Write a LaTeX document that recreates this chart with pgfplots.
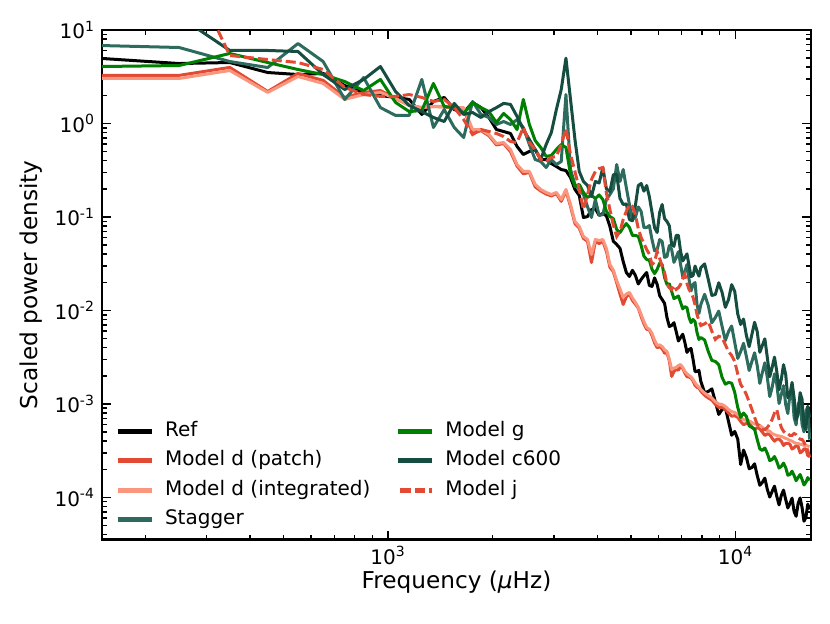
\documentclass[border=0pt]{standalone}
\usepackage{fontspec}
\setmainfont{DejaVu Sans}
\usepackage{pgfplots}
\usepackage{pgfplotstable}
\pgfplotsset{compat=1.18}
\definecolor{cref}{RGB}{0,0,0}
\definecolor{cpatch}{RGB}{227,74,51}
\definecolor{cint}{RGB}{250,150,125}
\definecolor{cstag}{RGB}{44,107,94}
\definecolor{cg}{RGB}{0,128,0}
\definecolor{cc600}{RGB}{21,77,64}

\pgfplotstableread{
f ref dpatch dint stag g c600 j
150 4.96 3.27 3.03 6.82 4.07 16 80
250 4.38 3.27 3.03 6.50 4.17 14 75
350 4.49 3.98 3.69 4.60 5.61 6.04 5.34
450 3.51 2.20 2.15 3.97 4.49 6.04 4.83
550 3.34 3.43 3.18 7.17 3.78 5.89 4.49
650 3.43 2.89 2.68 4.60 3.34 3.34 3.78
750 2.55 1.90 1.81 1.81 2.81 2.31 2.43
850 2.15 2.15 2.04 3.10 2.25 2.96 2.04
950 1.99 2.25 2.15 1.48 2.96 4.07 1.95
1050 1.90 1.85 1.85 1.22 1.68 2.20 1.95
1150 1.81 1.56 1.56 1.22 1.34 1.56 2.04
1250 1.25 1.48 1.48 2.96 1.38 1.34 1.90
1350 1.72 1.52 1.52 0.906 2.68 1.16 1.72
1450 1.90 1.50 1.52 1.41 1.52 1.05 1.81
1550 1.41 1.46 1.48 0.906 1.48 1.64 1.48
1650 1.31 1.46 1.48 0.708 1.28 1.25 1.10
1750 1.68 0.78 0.862 1.72 1.68 1.31 0.762
1850 1.48 0.84 0.862 1.25 1.48 1.16 0.862
1950 1.16 0.74 0.762 1.16 1.34 1.34 0.821
2050 0.862 0.59 0.611 0.976 1.025 1.48 0.782
2150 0.821 0.61 0.626 1.05 1.28 1.64 0.726
2250 0.782 0.50 0.527 0.976 1.10 1.60 0.642
2350 0.568 0.35 0.364 1.10 0.862 1.19 0.626
2450 0.466 0.29 0.307 0.906 1.81 0.862 0.906
2550 0.502 0.30 0.307 0.596 0.976 0.674 0.626
2650 0.527 0.21 0.223 0.412 0.658 0.527 0.527
2750 0.412 0.19 0.197 0.392 0.554 0.412 0.412
2850 0.412 0.176 0.183 0.338 0.444 0.596 0.392
2950 0.373 0.168 0.174 0.412 0.455 0.801 0.433
3050 0.347 0.178 0.183 0.364 0.527 1.41 0.444
3150 0.322 0.147 0.154 0.392 0.596 2.31 0.596
3250 0.314 0.190 0.197 2.04 0.554 5.0 0.884
3350 0.264 0.130 0.136 0.322 0.285 1.81 0.466
3450 0.197 0.085 0.0895 0.223 0.212 0.674 0.307
3550 0.170 0.076 0.0791 0.197 0.223 0.307 0.197
3650 0.0988 0.059 0.0619 0.174 0.183 0.240 0.120
3750 0.101 0.055 0.0574 0.129 0.162 0.217 0.174
3850 0.120 0.0326 0.0397 0.0988 0.170 0.166 0.252
3950 0.123 0.055 0.0574 0.154 0.158 0.240 0.307
4050 0.104 0.052 0.0560 0.104 0.172 0.231 0.33
4150 0.109 0.055 0.0574 0.106 0.154 0.338 0.338
4250 0.103 0.043 0.046 0.154 0.115 0.20 0.18
4350 0.0791 0.029 0.0310 0.174 0.101 0.187 0.120
4450 0.055 0.026 0.027 0.20 0.096 0.283 0.082
4550 0.0508 0.0198 0.0209 0.364 0.0735 0.285 0.0619
4650 0.0463 0.0150 0.0170 0.24 0.068 0.158 0.070
4750 0.0334 0.0116 0.0138 0.322 0.0773 0.136 0.0940
4850 0.0255 0.0140 0.0150 0.206 0.085 0.138 0.115
4950 0.0231 0.0150 0.0156 0.136 0.0773 0.0940 0.136
5050 0.0269 0.0128 0.0136 0.094 0.0634 0.091 0.13
5150 0.0237 0.0117 0.0122 0.0988 0.0634 0.133 0.106
5250 0.0192 0.0106 0.0108 0.128 0.0622 0.217 0.075
5350 0.0215 0.0086 0.00906 0.115 0.0496 0.228 0.0604
5450 0.0235 0.0072 0.0076 0.077 0.0381 0.189 0.052
5550 0.0255 0.0063 0.00658 0.0773 0.0351 0.217 0.0449
5650 0.0185 0.0062 0.0063 0.081 0.0344 0.165 0.040
5750 0.0181 0.0054 0.00568 0.0574 0.0275 0.112 0.0310
5850 0.0223 0.0045 0.0048 0.0435 0.0248 0.0766 0.0332
5950 0.0190 0.0040 0.00423 0.0449 0.0275 0.0683 0.0428
6050 0.0144 0.0041 0.00428 0.0573 0.0322 0.112 0.036
6150 0.0131 0.0039 0.00412 0.0547 0.0310 0.136 0.0296
6250 0.0119 0.0035 0.00380 0.037 0.0225 0.096 0.0255
6350 0.00841 0.0035 0.00364 0.0378 0.0190 0.0895 0.0190
6450 0.00674 0.0029 0.0030 0.0496 0.0193 0.0806 0.0175
6550 0.00691 0.00197 0.00234 0.0449 0.0160 0.0508 0.0168
6650 0.00740 0.00222 0.00242 0.0327 0.0134 0.0485 0.0185
6750 0.00596 0.00236 0.00246 0.0369 0.0138 0.0634 0.0168
6850 0.00472 0.00230 0.00258 0.0425 0.0143 0.0637 0.0175
6950 0.00514 0.00252 0.00264 0.0310 0.0122 0.0428 0.0190
7050 0.00557 0.00240 0.00246 0.0229 0.0104 0.0339 0.022
7150 0.00455 0.00214 0.00223 0.0261 0.0110 0.0369 0.0243
7250 0.00356 0.00196 0.00210 0.031 0.0107 0.0403 0.0195
7350 0.00383 0.00194 0.00202 0.0215 0.00841 0.0303 0.0168
7450 0.00392 0.00190 0.00195 0.0162 0.0074 0.023 0.0155
7550 0.00299 0.00176 0.00183 0.0190 0.00802 0.0237 0.0138
7650 0.00222 0.00158 0.00168 0.0199 0.0076 0.0299 0.0115
7750 0.00223 0.00151 0.00158 0.0116 0.00582 0.0261 0.00906
7850 0.00229 0.00148 0.00152 0.0093 0.0049 0.0233 0.0078
7950 0.00174 0.00137 0.00143 0.0116 0.00514 0.0288 0.0069
8150 0.00132 0.00124 0.00131 0.0149 0.00483 0.0315 0.0072
8350 0.00136 0.00116 0.00123 0.0113 0.00364 0.0215 0.00762
8550 0.00145 0.00110 0.00116 0.0074 0.00292 0.0145 0.0060
8750 0.00106 0.00099 0.00106 0.00841 0.00285 0.0148 0.00490
8950 0.000773 0.00092 0.00100 0.00985 0.00263 0.0198 0.0053
9150 0.000873 0.00092 0.000988 0.00675 0.00192 0.0156 0.00514
9350 0.000914 0.00088 0.00094 0.00477 0.00163 0.0108 0.0043
9550 0.000650 0.00080 0.000873 0.00596 0.00170 0.0131 0.00364
9750 0.000463 0.00074 0.00083 0.00683 0.00167 0.0189 0.0033
9950 0.000508 0.00075 0.000811 0.00455 0.00133 0.0160 0.00285
10150 0.000422 0.00072 0.00077 0.00307 0.00092 0.0092 0.0021
10350 0.000225 0.00065 0.000718 0.00364 0.000718 0.00708 0.00162
10550 0.000321 0.00060 0.00068 0.00446 0.0008 0.0081 0.00145
10750 0.000268 0.00062 0.000667 0.00322 0.000735 0.00541 0.00126
10950 0.000203 0.00062 0.00066 0.00228 0.000583 0.0041 0.00105
11150 0.000209 0.00057 0.000634 0.00285 0.000561 0.00554 0.000873
11350 0.000229 0.00053 0.00061 0.00353 0.000538 0.00748 0.00072
11550 0.000172 0.00056 0.000604 0.00258 0.000417 0.00596 0.000604
11750 0.000135 0.00054 0.00059 0.00166 0.000331 0.00357 0.00058
11950 0.000145 0.00050 0.000561 0.00217 0.000318 0.00423 0.000533
12150 0.000161 0.00046 0.00054 0.00276 0.000338 0.00498 0.00053
12350 0.000122 0.00048 0.000521 0.00192 0.000296 0.00314 0.000561
12550 0.000101 0.00047 0.00051 0.0012 0.000248 0.00196 0.00061
12750 0.000116 0.00043 0.000483 0.00150 0.000255 0.00246 0.000683
12950 0.000132 0.00040 0.00047 0.0021 0.000274 0.00317 0.00080
13150 0.000103 0.00042 0.000460 0.00162 0.000243 0.00223 0.000873
13350 0.0000832 0.00042 0.000455 0.00101 0.000206 0.00142 0.00068
13550 0.000105 0.00040 0.000449 0.00126 0.000215 0.00183 0.000561
13750 0.000120 0.00036 0.00044 0.00157 0.000233 0.00263 0.00051
13950 0.0000953 0.00038 0.000428 0.000988 0.000209 0.00207 0.000483
14150 0.0000772 0.00038 0.00042 0.00079 0.000173 0.00117 0.00048
14350 0.0000863 0.00037 0.000407 0.00126 0.000176 0.00126 0.000460
14550 0.0000982 0.00033 0.00040 0.00139 0.000191 0.00170 0.00046
14750 0.0000708 0.00034 0.000388 0.000718 0.000172 0.00117 0.000483
14950 0.0000629 0.00036 0.00038 0.000597 0.000151 0.00068 0.00047
15150 0.0000863 0.00035 0.000378 0.000988 0.000164 0.000772 0.000438
15350 0.0000987 0.00030 0.00037 0.00111 0.000176 0.00132 0.00042
15550 0.0000782 0.00031 0.000369 0.000604 0.000156 0.00112 0.000417
15750 0.0000557 0.00033 0.00036 0.000503 0.000136 0.00058 0.00039
15950 0.0000611 0.00033 0.000360 0.000832 0.000145 0.000533 0.000351
16150 0.0000848 0.00028 0.000355 0.00094 0.000163 0.00094 0.00032
16350 0.0000745 0.00029 0.000351 0.000417 0.000152 0.000718 0.000268
}\spectra

\begin{document}
\begin{tikzpicture}
\useasboundingbox (-51pt,-41.75pt) rectangle (364pt,269.75pt);
\begin{axis}[
  xmode=log, ymode=log,
  scale only axis, width=354.5pt, height=254.75pt,
  xmin=150, xmax=16500, ymin=3.55e-5, ymax=10,
  axis line style={line width=1.1pt},
  xtick={1000,10000},
  xticklabels={10\textsuperscript{3},10\textsuperscript{4}},
  minor xtick={200,300,400,500,600,700,800,900,2000,3000,4000,5000,6000,7000,8000,9000},
  ytick={1e-4,1e-3,1e-2,1e-1,1,10},
  yticklabels={10\textsuperscript{-4},10\textsuperscript{-3},10\textsuperscript{-2},10\textsuperscript{-1},10\textsuperscript{0},10\textsuperscript{1}},
  minor ytick={4e-5,5e-5,6e-5,7e-5,8e-5,9e-5,2e-4,3e-4,4e-4,5e-4,6e-4,7e-4,8e-4,9e-4,2e-3,3e-3,4e-3,5e-3,6e-3,7e-3,8e-3,9e-3,0.02,0.03,0.04,0.05,0.06,0.07,0.08,0.09,0.2,0.3,0.4,0.5,0.6,0.7,0.8,0.9,2,3,4,5,6,7,8,9},
  tick align=inside,
  major tick length=4.5pt, minor tick length=2.5pt,
  every tick/.append style={black, line width=0.75pt},
  tick label style={font=\fontsize{10}{12}\selectfont},
  xlabel={Frequency ({\itshape μ}Hz)},
  ylabel={Scaled power density},
  every axis x label/.style={at={(axis description cs:0.5,-0.0844)},anchor=center,font=\fontsize{11.6}{14}\selectfont},
  every axis y label/.style={at={(axis description cs:-0.1001,0.5)},rotate=90,anchor=center,font=\fontsize{11.6}{14}\selectfont},
  legend columns=2,
  legend cell align=left,
  legend style={at={(axis description cs:0.01834,0.2326)}, anchor=north west,
    draw=none, fill=none, inner sep=0pt, outer sep=0pt, row sep=4.8pt,
    font=\fontsize{10}{12}\selectfont,
    nodes={inner sep=0pt, text height=7.5pt, text depth=2.5pt},
    /tikz/every odd column/.append style={column sep=5.5pt},
    /tikz/every even column/.append style={column sep=12.5pt}},
  legend image code/.code={\draw[#1] (0pt,0pt) -- (17pt,0pt);},
]
\addplot[forget plot, cref, line width=1.5pt, line join=round] table[x=f,y=ref]{\spectra};
\addplot[forget plot, cpatch, line width=1.5pt, line join=round] table[x=f,y=dpatch]{\spectra};
\addplot[forget plot, cint, line width=1.5pt, line join=round] table[x=f,y=dint]{\spectra};
\addplot[forget plot, cstag, line width=1.5pt, line join=round] table[x=f,y=stag]{\spectra};
\addplot[forget plot, cg, line width=1.5pt, line join=round] table[x=f,y=g]{\spectra};
\addplot[forget plot, cc600, line width=1.5pt, line join=round] table[x=f,y=c600]{\spectra};
\addplot[forget plot, cpatch, line width=1.5pt, dash pattern=on 5pt off 2pt] table[x=f,y=j]{\spectra};

\addlegendimage{cref, line width=2.5pt}\addlegendentry{Ref}
\addlegendimage{cg, line width=2.5pt}\addlegendentry{Model g}
\addlegendimage{cpatch, line width=2.5pt}\addlegendentry{Model d (patch)}
\addlegendimage{cc600, line width=2.5pt}\addlegendentry{Model c600}
\addlegendimage{cint, line width=2.5pt}\addlegendentry{Model d (integrated)}
\addlegendimage{cpatch, line width=2.5pt, dash pattern=on 5.3pt off 2pt, dash phase=-1pt}\addlegendentry{Model j}
\addlegendimage{cstag, line width=2.5pt}\addlegendentry{Stagger}
\end{axis}
\end{tikzpicture}
\end{document}
